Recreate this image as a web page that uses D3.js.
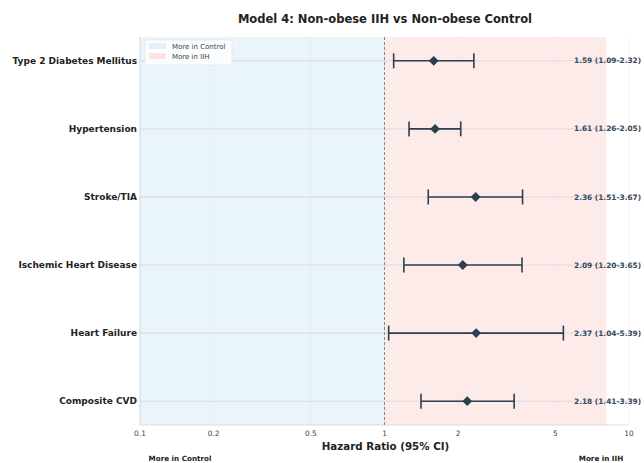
<!DOCTYPE html>
<html>
<head>
<meta charset="utf-8">
<script src="https://cdn.jsdelivr.net/npm/d3@7/dist/d3.min.js"></script>
<style>
  html, body { margin: 0; padding: 0; background: #fff; }
  svg { display: block; font-family: "DejaVu Sans", sans-serif; }
</style>
</head>
<body>
<svg id="chart" width="644" height="463"></svg>
<script>
// Outcomes and hazard ratios with 95% confidence intervals
const outcomes = ["Type 2 Diabetes Mellitus", "Hypertension", "Stroke/TIA",
                  "Ischemic Heart Disease", "Heart Failure", "Composite CVD"];
const hazardRatios = [1.59, 1.61, 2.36, 2.09, 2.37, 2.18];
const ciLower = [1.09, 1.26, 1.51, 1.20, 1.04, 1.41];
const ciUpper = [2.32, 2.05, 3.67, 3.65, 5.39, 3.39];
const xTicks = [0.1, 0.2, 0.5, 1, 2, 5, 10];
const xTickLabels = ["0.1", "0.2", "0.5", "1", "2", "5", "10"];

(function () {
const svg = d3.select("#chart");
const pLeft = 140, pRight = 629, pTop = 37, pBottom = 425;
const dark = "#2c3e50";

const x = d3.scaleLog().domain([0.1, 10]).range([pLeft, pRight]);
const y = d3.scaleLinear().domain([-0.35, outcomes.length - 1 + 0.35]).range([pTop, pBottom]);

// Shaded regions either side of HR = 1
const spanMax = d3.max(ciUpper) * 1.5;
svg.append("rect").attr("x", x(0.1)).attr("y", pTop)
  .attr("width", x(1) - x(0.1)).attr("height", pBottom - pTop)
  .attr("fill", "#e9f4fb");
svg.append("rect").attr("x", x(1)).attr("y", pTop)
  .attr("width", x(spanMax) - x(1)).attr("height", pBottom - pTop)
  .attr("fill", "#fdebea");

// Vertical grid
svg.append("g").selectAll("line").data(xTicks).join("line")
  .attr("x1", d => x(d)).attr("x2", d => x(d))
  .attr("y1", pTop).attr("y2", pBottom)
  .attr("stroke", "#d8dde2").attr("stroke-width", 0.6)
  .attr("stroke-dasharray", "2,2").attr("opacity", 0.8);

// Horizontal row lines
svg.append("g").selectAll("line").data(outcomes).join("line")
  .attr("x1", pLeft).attr("x2", pRight)
  .attr("y1", (d, i) => y(i)).attr("y2", (d, i) => y(i))
  .attr("stroke", "#d3d6da").attr("stroke-width", 0.8);

// Axes frame (light)
svg.append("line").attr("x1", pLeft).attr("x2", pRight).attr("y1", pBottom).attr("y2", pBottom)
  .attr("stroke", "#d0d4d8").attr("stroke-width", 0.8);
svg.append("line").attr("x1", pLeft).attr("x2", pLeft).attr("y1", pTop).attr("y2", pBottom)
  .attr("stroke", "#d0d4d8").attr("stroke-width", 0.8);

// Reference line at HR = 1
svg.append("line").attr("x1", x(1)).attr("x2", x(1)).attr("y1", pTop).attr("y2", pBottom)
  .attr("stroke", "#7f8c8d").attr("stroke-width", 1).attr("stroke-dasharray", "3,2");

// Error bars
const rows = outcomes.map((o, i) => ({o, i, hr: hazardRatios[i], lo: ciLower[i], hi: ciUpper[i]}));
const eb = svg.append("g").attr("stroke", dark).attr("stroke-width", 1.6);
eb.selectAll("line.ci").data(rows).join("line").attr("class", "ci")
  .attr("x1", d => x(d.lo)).attr("x2", d => x(d.hi))
  .attr("y1", d => y(d.i)).attr("y2", d => y(d.i));
eb.selectAll("line.capl").data(rows).join("line").attr("class", "capl")
  .attr("x1", d => x(d.lo)).attr("x2", d => x(d.lo))
  .attr("y1", d => y(d.i) - 7.5).attr("y2", d => y(d.i) + 7.5);
eb.selectAll("line.caph").data(rows).join("line").attr("class", "caph")
  .attr("x1", d => x(d.hi)).attr("x2", d => x(d.hi))
  .attr("y1", d => y(d.i) - 7.5).attr("y2", d => y(d.i) + 7.5);

// Diamonds at point estimates
svg.append("g").selectAll("path").data(rows).join("path")
  .attr("d", d3.symbol().type(d3.symbolDiamond2).size(62))
  .attr("transform", d => `translate(${x(d.hr)},${y(d.i)})`)
  .attr("fill", dark);

// Value labels
svg.append("g").selectAll("text").data(rows).join("text")
  .attr("x", 574).attr("y", d => y(d.i)).attr("dy", "0.35em")
  .attr("font-size", 7.4).attr("font-weight", "bold").attr("fill", "#34495e")
  .text(d => `${d.hr.toFixed(2)} (${d.lo.toFixed(2)}-${d.hi.toFixed(2)})`);

// Outcome labels
svg.append("g").selectAll("text").data(rows).join("text")
  .attr("x", 137).attr("y", d => y(d.i)).attr("dy", "0.35em")
  .attr("text-anchor", "end").attr("font-size", 9).attr("font-weight", "bold")
  .attr("fill", "#222").text(d => d.o);

// X tick labels
svg.append("g").selectAll("text").data(xTicks).join("text")
  .attr("x", d => x(d)).attr("y", 436).attr("text-anchor", "middle")
  .attr("font-size", 7.4).attr("fill", "#444")
  .text((d, i) => xTickLabels[i]);

// Axis title
svg.append("text").attr("x", (pLeft + pRight) / 2 + 1).attr("y", 450)
  .attr("text-anchor", "middle").attr("font-size", 10.3).attr("font-weight", "bold")
  .attr("fill", "#222").text("Hazard Ratio (95% CI)");

// Direction labels
svg.append("text").attr("x", 180).attr("y", 461).attr("text-anchor", "middle")
  .attr("font-size", 7.2).attr("font-weight", "bold").attr("fill", "#222").text("More in Control");
svg.append("text").attr("x", 601).attr("y", 461).attr("text-anchor", "middle")
  .attr("font-size", 7.2).attr("font-weight", "bold").attr("fill", "#222").text("More in IIH");

// Title
svg.append("text").attr("x", 385).attr("y", 23).attr("text-anchor", "middle")
  .attr("font-size", 11.5).attr("font-weight", "bold").attr("fill", "#222")
  .text("Model 4: Non-obese IIH vs Non-obese Control");

// Legend
const lg = svg.append("g").attr("transform", "translate(145,40)");
lg.append("rect").attr("width", 87).attr("height", 25).attr("rx", 2)
  .attr("fill", "#fff").attr("fill-opacity", 0.8).attr("stroke", "#e3e3e3").attr("stroke-width", 0.6);
const legendItems = [{label: "More in Control", color: "#e3f0fa"}, {label: "More in IIH", color: "#fce3e3"}];
legendItems.forEach((it, i) => {
  lg.append("rect").attr("x", 4).attr("y", 3 + i * 10).attr("width", 17).attr("height", 6).attr("fill", it.color);
  lg.append("text").attr("x", 27).attr("y", 6.5 + i * 10).attr("dy", "0.35em")
    .attr("font-size", 7).attr("fill", "#444").text(it.label);
});
})();
</script>
</body>
</html>
